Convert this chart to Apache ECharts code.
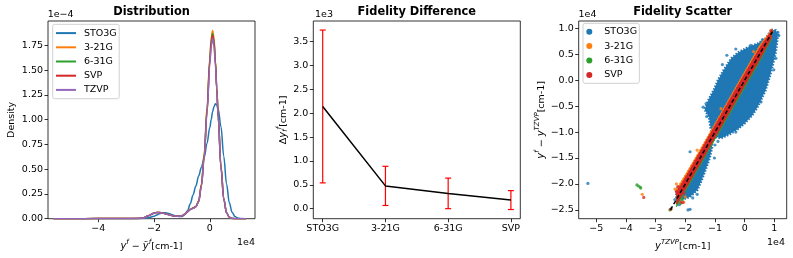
<!DOCTYPE html>
<html><head><meta charset="utf-8">
<script src="https://cdn.jsdelivr.net/npm/echarts@6/dist/echarts.min.js"></script>
<style>html,body{margin:0;padding:0;background:#fff}#c{width:793px;height:258px}</style>
</head><body><div id="c"></div>
<script>
// ---------- Panel 1: Distribution (x in 1e4 cm-1, density in 1e-4) ----------
const kdeX = [-5.6,-4.5,-3.6,-3.0,-2.6,-2.4,-2.2,-2.0,-1.9,-1.8,-1.7,-1.6,-1.5,-1.4,-1.3,-1.2,-1.1,-1.0,-0.9,-0.8,-0.7,-0.6,-0.5,-0.4,-0.3,-0.2,-0.1,0.0,0.05,0.1,0.15,0.2,0.25,0.3,0.4,0.5,0.6,0.7,0.8,0.9,1.0,1.1,1.3];
const kdeSTO3G = [0,0,0,0,0.001,0.003,0.01,0.025,0.038,0.05,0.058,0.06,0.055,0.046,0.036,0.027,0.021,0.022,0.04,0.08,0.15,0.24,0.33,0.43,0.52,0.62,0.76,0.92,1.0,1.08,1.13,1.16,1.15,1.11,0.93,0.63,0.35,0.16,0.065,0.022,0.007,0.002,0];
const kde321G  = [0,0,0.002,0.001,0.002,0.008,0.03,0.055,0.062,0.063,0.058,0.05,0.042,0.034,0.028,0.025,0.025,0.03,0.046,0.072,0.096,0.11,0.125,0.18,0.35,0.66,1.12,1.62,1.83,1.90,1.83,1.60,1.33,1.04,0.53,0.2,0.06,0.015,0.003,0,0,0,0];
const kde631G  = [0,0,0.002,0.001,0.002,0.008,0.03,0.055,0.062,0.063,0.058,0.05,0.042,0.034,0.028,0.025,0.025,0.03,0.045,0.071,0.094,0.107,0.122,0.175,0.34,0.64,1.10,1.60,1.80,1.87,1.80,1.59,1.32,1.03,0.52,0.2,0.06,0.015,0.003,0,0,0,0];
const kdeSVP   = [0,0,0.002,0.001,0.002,0.008,0.03,0.055,0.062,0.063,0.058,0.05,0.042,0.034,0.028,0.025,0.025,0.03,0.045,0.07,0.093,0.106,0.121,0.172,0.335,0.63,1.08,1.58,1.78,1.85,1.78,1.57,1.31,1.02,0.52,0.2,0.06,0.015,0.003,0,0,0,0];
const kdeTZVP  = [0,0,0.002,0.001,0.002,0.008,0.03,0.055,0.062,0.063,0.058,0.05,0.042,0.034,0.028,0.025,0.025,0.03,0.045,0.07,0.092,0.105,0.12,0.17,0.33,0.62,1.07,1.55,1.74,1.82,1.75,1.55,1.30,1.02,0.52,0.2,0.06,0.015,0.003,0,0,0,0];
const distTicksX = [-4,-2,0];
const distTicksY = [0,0.25,0.5,0.75,1.0,1.25,1.5,1.75];

// ---------- Panel 2: Fidelity Difference (1e3 cm-1) ----------
const basisLabels = ['STO3G','3-21G','6-31G','SVP'];
const fidMeanE3 = [2.14, 0.477, 0.32, 0.18];
const fidStdE3  = [1.60, 0.41, 0.32, 0.198];
const fidTicksY = [0,0.5,1.0,1.5,2.0,2.5,3.0,3.5];

// ---------- Panel 3: Fidelity Scatter (1e4 cm-1) ----------
const scatTicksX = [-5,-4,-3,-2,-1,0,1];
const scatTicksY = [-2.5,-2.0,-1.5,-1.0,-0.5,0.0,0.5,1.0];
// dense STO3G cloud envelopes
const sto3gUpperX = [0.9,1.05,1.12,1.05,0.95,0.85,0.7,0.45,0.25,0.0,-0.2,-0.5,-0.8,-1.05,-1.15,-1.2,-1.35,-1.2,-1.05,-0.9,-0.7,-0.45,-0.2,0.1,0.45,0.7];
const sto3gUpperY = [0.97,0.96,0.88,0.55,0.3,0.08,-0.2,-0.5,-0.68,-0.83,-0.93,-1.04,-1.12,-1.08,-0.92,-0.72,-0.56,-0.36,-0.2,0.0,0.2,0.42,0.54,0.63,0.71,0.8];
const sto3gLowerX = [-1.1,-1.1,-1.18,-1.3,-1.45,-1.6,-1.85,-2.1,-2.3,-2.3,-2.0,-1.7,-1.4,-1.2];
const sto3gLowerY = [-1.0,-1.3,-1.5,-1.7,-1.93,-2.12,-2.25,-2.3,-2.25,-2.1,-1.95,-1.65,-1.35,-1.1];
// diagonal bands for other bases
const bandX      = [-2.3,-2.0,-1.5,-1.0,-0.5,0.0,0.5,0.9];
const b321GUp    = [-2.1,-1.82,-1.33,-0.83,-0.33,0.17,0.67,0.97];
const b321GLo    = [-2.4,-2.1,-1.6,-1.1,-0.6,-0.1,0.4,0.82];
const b631GUp    = [-2.2,-1.92,-1.43,-0.93,-0.43,0.07,0.57,0.94];
const b631GLo    = [-2.45,-2.15,-1.65,-1.15,-0.65,-0.15,0.35,0.78];
const bSVPUp     = [-2.16,-1.87,-1.37,-0.87,-0.37,0.13,0.62,0.95];
const bSVPLo     = [-2.4,-2.11,-1.61,-1.11,-0.61,-0.11,0.39,0.81];
// individual points
const ptsSTO3G = [[-5.28,-1.99],[-1.84,-2.49],[-1.91,-2.5],[-1.84,-1.38],[1.12,0.92],[1.15,0.86],[-1.4,-0.52],[-1.3,-0.45],[-1.28,-0.7],[-0.6,0.48],[-0.3,0.6],[0.2,0.67],[0.6,0.78],[-0.9,-1.18],[-1.0,-1.25],[-2.35,-2.3],[-2.2,-2.4],[-1.6,-2.2],[-1.75,-2.27],[-1.02,-1.5],[-1.05,-1.12],[0.98,0.2],[1.05,0.42],[-0.3,-1.0],[0.55,-0.42],[-0.75,0.3],[0.95,0.75]];
const pts321G  = [[-3.45,-2.2],[-2.3,-2.0],[-2.0,-2.25],[-2.05,-2.35],[-2.35,-2.1],[0.88,0.96],[0.92,0.94],[-2.25,-2.28],[-1.6,-1.35],[-0.8,-0.55],[0.3,0.55]];
const pts631G  = [[-3.63,-2.02],[-3.58,-2.04],[-3.52,-2.06],[-3.5,-2.08],[-2.52,-2.5],[-2.48,-2.48],[-2.1,-2.3],[-2.15,-2.37]];
const ptsSVP   = [[-3.4,-2.26],[-2.25,-2.05],[-2.2,-2.1],[-2.1,-2.1],[-2.05,-2.18],[-2.2,-2.2],[-2.15,-2.35],[-2.08,-2.36],[-2.3,-2.15],[0.9,0.95],[-2.49,-2.49]];
const diagLine = [[-2.5,-2.5],[0.95,0.95]];

// ---------- styling ----------
const FF = 'DejaVu Sans';
const C = {STO3G:'#1f77b4','3-21G':'#ff7f0e','6-31G':'#2ca02c',SVP:'#d62728',TZVP:'#9467bd'};
const minus = s => String(s).replace('-', '\u2212');
const rich = {
  i:{fontFamily:FF, fontStyle:'italic', fontSize:10, lineHeight:13, verticalAlign:'bottom', color:'#000'},
  n:{fontFamily:FF, fontSize:9.5, lineHeight:13, verticalAlign:'bottom', color:'#000'},
  s:{fontFamily:FF, fontStyle:'italic', fontSize:7, lineHeight:9, verticalAlign:'top', color:'#000'},
  b:{fontFamily:FF, fontStyle:'italic', fontSize:7, lineHeight:9, verticalAlign:'bottom', color:'#000'}
};
function vAxis(gi, min, max, ticks, fmt, name, gap, extra) {
  return Object.assign({
    type:'value', gridIndex:gi, min, max,
    axisLine:{show:false, onZero:false}, splitLine:{show:false},
    axisTick:{show:true, customValues:ticks, length:3.5, lineStyle:{color:'#000', width:0.8}},
    axisLabel:{customValues:ticks, formatter:fmt, color:'#000', fontSize:9.5, fontFamily:FF, margin:5},
    name:name, nameLocation:'middle', nameGap:gap,
    nameTextStyle:{rich:rich, fontFamily:FF, fontSize:9.5, color:'#000'}
  }, extra || {});
}
const gridBase = {show:true, borderColor:'#000', borderWidth:0.8, backgroundColor:'rgba(0,0,0,0)'};

function poly(xs, ys, color, z, lw) {
  return {type:'custom', name:'_p', xAxisIndex:2, yAxisIndex:2, data:[[0,0]], silent:true, z:z, clip:true,
    renderItem:(p, api) => ({type:'polygon', shape:{points: xs.map((x,i)=>api.coord([x, ys[i]]))},
      style:{fill:color, stroke:color, lineWidth:lw, lineDash:[1.5,1.5]}})};
}
function band(up, lo, color, z) {
  const xs = bandX.concat(bandX.slice().reverse());
  const ys = up.concat(lo.slice().reverse());
  return poly(xs, ys, color, z, 1);
}
function pts(name, data, z) {
  return {type:'scatter', name:name, xAxisIndex:2, yAxisIndex:2, data:data, symbolSize:3.2, z:z,
    itemStyle:{color:C[name]}, silent:true};
}
function kde(name, arr) {
  return {type:'line', name:name, xAxisIndex:0, yAxisIndex:0, data:kdeX.map((x,i)=>[x, arr[i]]),
    showSymbol:false, smooth:0.35, smoothMonotone:'x', lineStyle:{color:C[name], width:1.5}, itemStyle:{color:C[name]}, silent:true};
}

const chart = echarts.init(document.getElementById('c'));
chart.setOption({
  animation:false,
  grid:[
    Object.assign({left:48, top:21, width:207, height:197.7}, gridBase),
    Object.assign({left:313.3, top:21, width:207, height:197.7}, gridBase),
    Object.assign({left:578.7, top:21, width:208, height:197.7}, gridBase)
  ],
  xAxis:[
    vAxis(0, -5.8, 1.62, distTicksX, v=>minus(v), '{i|y}{s|f}{n| \u2212 }{i|\u1ef9}{s|f}{n|[cm-1]}', 18),
    vAxis(1, -0.15, 3.15, [0,1,2,3], v=>basisLabels[Math.round(v)], '', 20),
    vAxis(2, -5.59, 1.415, scatTicksX, v=>minus(v), '{i|y}{s|TZVP}{n|[cm-1]}', 17)
  ],
  yAxis:[
    vAxis(0, 0, 1.995, distTicksY, v=>v.toFixed(2), 'Density', 31),
    vAxis(1, -0.21, 3.93, fidTicksY, v=>minus(v.toFixed(1)), '{n|\u0394}{i|y}{b|f}{s|f}{n|[cm-1]}', 25),
    vAxis(2, -2.67, 1.14, scatTicksY, v=>minus(v.toFixed(1)), '{i|y}{s|f}{n| \u2212 }{i|y}{s|TZVP}{n|[cm-1]}', 32)
  ],
  legend:[
    {orient:'vertical', left:52.7, top:24.3, data:['STO3G','3-21G','6-31G','SVP','TZVP'],
      icon:'rect', itemWidth:20, itemHeight:2, itemGap:2.2, padding:[2.8,2.5,2.8,3.3],
      borderColor:'#d0d0d0', borderWidth:1, borderRadius:2, backgroundColor:'rgba(255,255,255,0.8)',
      textStyle:{fontFamily:FF, fontSize:9.5, color:'#000', lineHeight:12, padding:[0,0,0,3]}, selectedMode:false},
    {orient:'vertical', left:583, top:23.3, data:['STO3G','3-21G','6-31G','SVP'],
      icon:'circle', itemWidth:20, itemHeight:6, itemGap:2.4, padding:[2.4,2.3,2.4,3.3],
      borderColor:'#d0d0d0', borderWidth:1, borderRadius:2, backgroundColor:'rgba(255,255,255,0.8)',
      textStyle:{fontFamily:FF, fontSize:9.5, color:'#000', lineHeight:12}, selectedMode:false}
  ],
  graphic:[
    {type:'text', x:151.5, y:11.7, style:{text:'Distribution', font:'bold 11.4px "DejaVu Sans"', fill:'#000', align:'center', verticalAlign:'middle'}},
    {type:'text', x:416.8, y:11.7, style:{text:'Fidelity Difference', font:'bold 11.4px "DejaVu Sans"', fill:'#000', align:'center', verticalAlign:'middle'}},
    {type:'text', x:682.7, y:11.7, style:{text:'Fidelity Scatter', font:'bold 11.4px "DejaVu Sans"', fill:'#000', align:'center', verticalAlign:'middle'}},
    {type:'text', x:47.7, y:15, style:{text:'1e\u22124', font:'9.5px "DejaVu Sans"', fill:'#000', align:'left', verticalAlign:'middle'}},
    {type:'text', x:315, y:15, style:{text:'1e3', font:'9.5px "DejaVu Sans"', fill:'#000', align:'left', verticalAlign:'middle'}},
    {type:'text', x:578.5, y:15, style:{text:'1e4', font:'9.5px "DejaVu Sans"', fill:'#000', align:'left', verticalAlign:'middle'}},
    {type:'text', x:255, y:242.7, style:{text:'1e4', font:'9.5px "DejaVu Sans"', fill:'#000', align:'right', verticalAlign:'middle'}},
    {type:'text', x:785, y:243, style:{text:'1e4', font:'9.5px "DejaVu Sans"', fill:'#000', align:'right', verticalAlign:'middle'}}
  ],
  series:[
    kde('STO3G', kdeSTO3G), kde('3-21G', kde321G), kde('6-31G', kde631G), kde('SVP', kdeSVP), kde('TZVP', kdeTZVP),
    {type:'custom', name:'_err', xAxisIndex:1, yAxisIndex:1, silent:true, z:2,
      data: fidMeanE3.map((m,i)=>[i, m, fidStdE3[i]]),
      renderItem:(p, api) => {
        const x = api.value(0), m = api.value(1), s = api.value(2);
        const t = api.coord([x, m+s]), b = api.coord([x, m-s]);
        const st = {stroke:'#ff0000', lineWidth:1.2};
        return {type:'group', children:[
          {type:'line', shape:{x1:t[0], y1:t[1], x2:b[0], y2:b[1]}, style:st},
          {type:'line', shape:{x1:t[0]-3, y1:t[1], x2:t[0]+3, y2:t[1]}, style:st},
          {type:'line', shape:{x1:b[0]-3, y1:b[1], x2:b[0]+3, y2:b[1]}, style:st}
        ]};
      }},
    {type:'line', name:'_mean', xAxisIndex:1, yAxisIndex:1, data:fidMeanE3.map((m,i)=>[i,m]), showSymbol:false, z:3,
      lineStyle:{color:'#000', width:1.5}, silent:true},
    poly(sto3gUpperX, sto3gUpperY, C.STO3G, 1, 2.5),
    poly(sto3gLowerX, sto3gLowerY, C.STO3G, 1, 2.5),
    pts('STO3G', ptsSTO3G, 2),
    band(b321GUp, b321GLo, C['3-21G'], 3),
    pts('3-21G', pts321G, 3),
    band(b631GUp, b631GLo, C['6-31G'], 4),
    pts('6-31G', pts631G, 4),
    band(bSVPUp, bSVPLo, C.SVP, 5),
    pts('SVP', ptsSVP, 5),
    {type:'line', name:'_diag', xAxisIndex:2, yAxisIndex:2, data:diagLine, showSymbol:false, z:6, silent:true,
      lineStyle:{color:'#000', width:1.5, type:[4,2.5]}}
  ]
});
</script></body></html>
